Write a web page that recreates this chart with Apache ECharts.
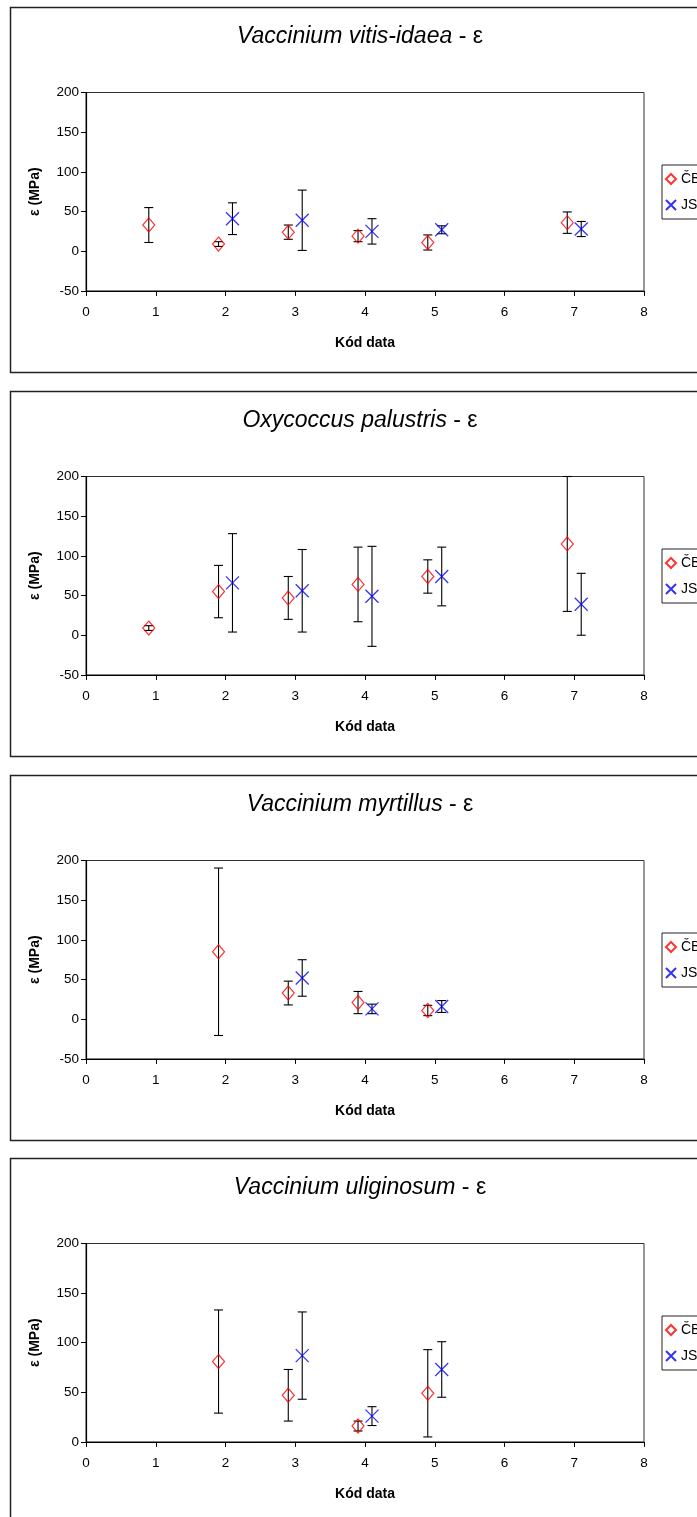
<!DOCTYPE html>
<html>
<head>
<meta charset="utf-8">
<script src="https://cdn.jsdelivr.net/npm/echarts@6/dist/echarts.min.js"></script>
<style>
  html, body { margin: 0; padding: 0; background: #fff; }
  #chart { width: 697px; height: 1517px; }
</style>
</head>
<body>
<div id="chart"></div>
<script>
// Species shown in the four panels (top to bottom)
const speciesNames = ['Vaccinium vitis-idaea', 'Oxycoccus palustris', 'Vaccinium myrtillus', 'Vaccinium uliginosum'];
const seriesNames = ['ČB', 'JS'];

// Each point: [date code position, mean ε (MPa), error (±)]
const vitisCB = [[0.9, 33, 22], [1.9, 9, 3], [2.9, 24, 9], [3.9, 19, 7], [4.9, 11, 9.5], [6.9, 36, 13.5]];
const vitisJS = [[2.1, 41, 20], [3.1, 39, 38], [4.1, 25, 16], [5.1, 27, 5], [7.1, 28, 9.5]];
const oxyCB = [[0.9, 9, 3], [1.9, 55, 33], [2.9, 47, 27], [3.9, 64, 47], [4.9, 74, 21], [6.9, 115, 85]];
const oxyJS = [[2.1, 66, 62], [3.1, 56, 52], [4.1, 49, 63], [5.1, 74, 37], [7.1, 39, 39]];
const myrtCB = [[1.9, 85, 105.5], [2.9, 33, 15], [3.9, 21, 14], [4.9, 11, 6.5]];
const myrtJS = [[3.1, 52, 23], [4.1, 13, 6], [5.1, 16, 7.5]];
const uligCB = [[1.9, 81, 52], [2.9, 47, 26], [3.9, 16, 5], [4.9, 49, 44]];
const uligJS = [[3.1, 87, 44], [4.1, 26, 9.5], [5.1, 73, 28]];

// Axis ranges
const xTicks = [0, 1, 2, 3, 4, 5, 6, 7, 8];
const yMins = [-50, -50, -50, 0];
const yMax = 200;
const yStep = 50;

const panelData = [[vitisCB, vitisJS], [oxyCB, oxyJS], [myrtCB, myrtJS], [uligCB, uligJS]];

const FONT = '"Liberation Sans", Arial, sans-serif';
const panelTops = [7, 391, 775, 1158];
const panelH = 365;
const plotOffset = 85.5;
const plotH = 198.4;

const xCross = 'path://M0,0L10,10M10,0L0,10';

const grids = [], xAxes = [], yAxes = [], series = [], legends = [], graphics = [];

panelTops.forEach((T, i) => {
  graphics.push({
    type: 'rect', silent: true, z: 0,
    shape: { x: 10.5, y: T + 0.5, width: 720, height: panelH },
    style: { fill: 'none', stroke: '#222', lineWidth: 1.5 }
  });
  graphics.push({
    type: 'text', silent: true,
    x: 360, y: T + 30,
    style: {
      text: '{i|' + speciesNames[i] + '} - ε',
      font: '23px ' + FONT, fill: '#000',
      align: 'center', verticalAlign: 'middle',
      rich: { i: { fontStyle: 'italic', fontSize: 23, fontFamily: FONT } }
    }
  });

  grids.push({
    left: 86, width: 558, top: T + plotOffset, height: plotH,
    show: true, borderColor: '#333', borderWidth: 1, backgroundColor: '#fff'
  });
  xAxes.push({
    gridIndex: i, type: 'value',
    min: xTicks[0], max: xTicks[xTicks.length - 1], interval: 1,
    name: 'Kód data', nameLocation: 'middle', nameGap: 45,
    nameTextStyle: { fontFamily: FONT, fontSize: 14, fontWeight: 'bold', color: '#000' },
    axisLine: { onZero: false, lineStyle: { color: '#000', width: 1.2 } },
    axisTick: { show: true, length: 5, lineStyle: { color: '#000' } },
    axisLabel: { fontFamily: FONT, fontSize: 13.5, color: '#000', margin: 14 },
    splitLine: { show: false }
  });
  yAxes.push({
    gridIndex: i, type: 'value',
    min: yMins[i], max: yMax, interval: yStep,
    name: 'ε (MPa)', nameLocation: 'middle', nameGap: 44,
    nameTextStyle: { fontFamily: FONT, fontSize: 14, fontWeight: 'bold', color: '#000' },
    axisLine: { show: true, lineStyle: { color: '#000', width: 1.2 } },
    axisTick: { show: true, length: 5, lineStyle: { color: '#000' } },
    axisLabel: { fontFamily: FONT, fontSize: 13.5, color: '#000', margin: 7 },
    splitLine: { show: false }
  });

  const [cb, js] = panelData[i];
  [cb, js].forEach((pts) => {
    // error bars: vertical whisker with caps
    series.push({
      type: 'custom', xAxisIndex: i, yAxisIndex: i, z: 2,
      silent: true, legendHoverLink: false,
      data: pts.map(p => [p[0], p[1] - p[2], p[1] + p[2]]),
      renderItem: function (params, api) {
        const lo = api.coord([api.value(0), api.value(1)]);
        const hi = api.coord([api.value(0), api.value(2)]);
        const cap = 4.5;
        const st = { stroke: '#000', lineWidth: 1.1 };
        return {
          type: 'group',
          children: [
            { type: 'line', shape: { x1: lo[0], y1: lo[1], x2: hi[0], y2: hi[1] }, style: st },
            { type: 'line', shape: { x1: lo[0] - cap, y1: lo[1], x2: lo[0] + cap, y2: lo[1] }, style: st },
            { type: 'line', shape: { x1: hi[0] - cap, y1: hi[1], x2: hi[0] + cap, y2: hi[1] }, style: st }
          ]
        };
      }
    });
  });
  series.push({
    name: seriesNames[0], type: 'scatter', xAxisIndex: i, yAxisIndex: i, z: 3,
    symbol: 'diamond', symbolSize: [12, 14],
    itemStyle: { color: 'rgba(0,0,0,0)', borderColor: '#ff0000', borderWidth: 1.2 },
    data: cb.map(p => [p[0], p[1]])
  });
  series.push({
    name: seriesNames[1], type: 'scatter', xAxisIndex: i, yAxisIndex: i, z: 3,
    symbol: xCross, symbolSize: 13,
    itemStyle: { color: 'rgba(0,0,0,0)', borderColor: '#0000ff', borderWidth: 1.3 },
    data: js.map(p => [p[0], p[1]])
  });

  legends.push({
    orient: 'vertical', left: 662, top: T + 158,
    data: seriesNames,
    selectedMode: false,
    itemWidth: 10, itemHeight: 10, itemGap: 12,
    padding: [7, 30, 7, 3],
    borderColor: '#222', borderWidth: 1, backgroundColor: '#fff',
    textStyle: { fontFamily: FONT, fontSize: 14, color: '#000' }
  });
});

const chart = echarts.init(document.getElementById('chart'), null, { renderer: 'canvas' });
chart.setOption({
  animation: false,
  backgroundColor: '#fff',
  grid: grids,
  xAxis: xAxes,
  yAxis: yAxes,
  legend: legends,
  series: series,
  graphic: graphics
});
</script>
</body>
</html>
